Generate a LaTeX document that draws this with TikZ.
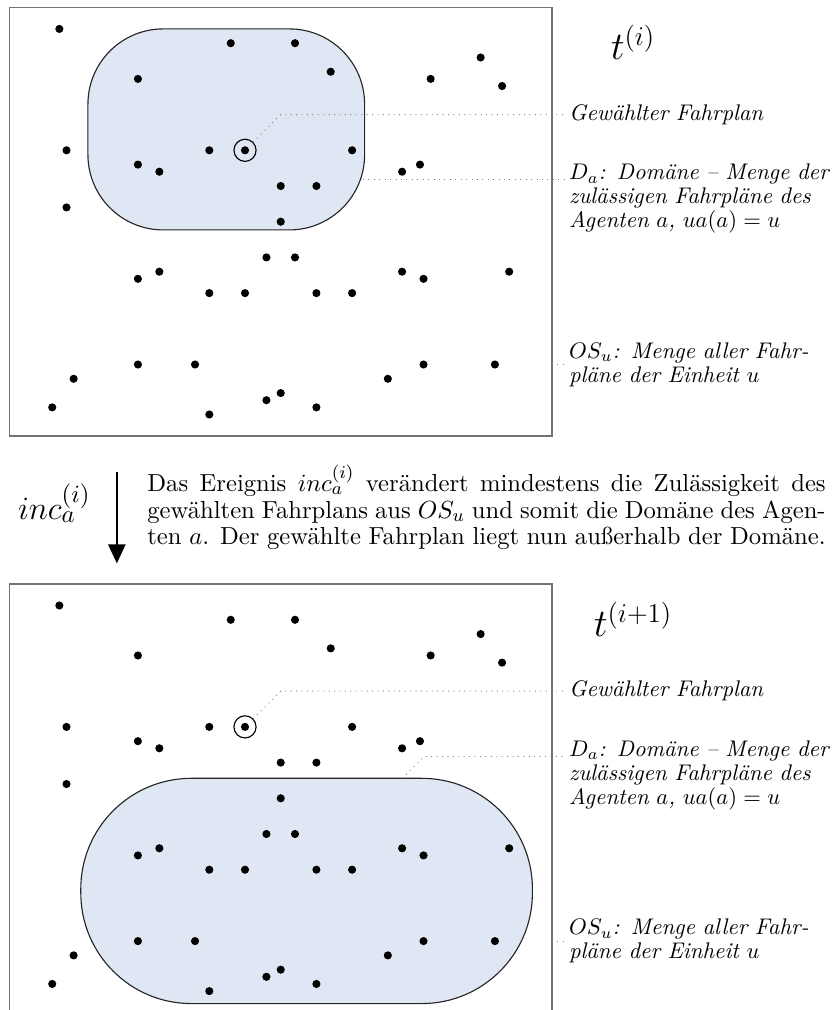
\documentclass[tikz,border=0pt]{standalone}
\usetikzlibrary{arrows.meta,positioning}
\definecolor{domfill}{RGB}{224,231,244}
\definecolor{boxgray}{gray}{0.45}

\begin{document}
\begin{tikzpicture}[x=0.555cm,y=0.555cm,>=Latex,
plan/.style={circle,fill,inner sep=0pt,minimum size=3.6pt},
chosen/.style={circle,draw,inner sep=0pt,minimum size=9.8pt,line width=0.5pt},
space/.style={draw=boxgray,line width=0.6pt},
dom/.style={draw=black!85,fill=domfill,line width=0.5pt},
lead/.style={draw=gray,dotted,line width=0.4pt},
lbl/.style={inner sep=1pt,text width=125pt,align=left,
font=\itshape\fontsize{10}{10.5}\selectfont},
when/.style={font=\LARGE,anchor=base}]
\useasboundingbox (-6.863,4.21) rectangle (16.499,-24.08);

% Zeitpunkt t^(i)
\draw[space] (-6.6,4) rectangle (8.6,-8);
\coordinate (ain) at (3,-0.83);
\node[lbl,anchor=base west] (lblDa) at (9,-0.83) {$D_a$: Domäne – Menge der\\
zulässigen Fahrpläne des\\ Agenten $a$, $ua(a)=u$};
\draw[lead] (ain) -- (lblDa.base west);
\draw[dom,rounded corners=1.17cm] (-4.4,3.4) rectangle (3.35,-2.23);
\foreach \x/\y [count=\i] in {-5.2/3.4,-0.4/3,1.4/3,6.6/2.6,-3/2,2.4/2.2,5.2/2,
7.2/1.8,-5/0,-1/0,3/0,-3/-0.4,-2.4/-0.6,4.4/-0.6,4.9/-0.4,1/-1,2/-1,-5/-1.6,
1/-2,0.6/-3,1.4/-3,-3/-3.6,-2.4/-3.4,4.4/-3.4,5/-3.6,7.4/-3.4,-1/-4,0/-4,2/-4,
3/-4,-3/-6,-1.4/-6,5/-6,7/-6,-4.8/-6.4,4/-6.4,-5.4/-7.2,-1/-7.4,0.6/-7,1/-6.8,2/-7.2}
  \node[plan] (a\i) at (\x,\y) {};
\node[plan] (asel) at (0,0) {};
\node[chosen] (aring) at (asel) {};
\node[when] (ta) at (10.87,2.53) {$t^{(i)}$};
\node[lbl,anchor=west] (lblGa) at (9,1) {Gewählter Fahrplan};
\node[lbl,anchor=west] (lblOa) at (9,-6) {$OS_u$: Menge aller Fahr-\\ pläne der Einheit $u$};
\coordinate (aedge) at (8.6,-6);
\draw[lead] (aring.45) -- (1,1) -- (lblGa.west);
\draw[lead] (aedge) -- (lblOa.west);

% Ereignis
\node[font=\fontsize{15.8}{18}\selectfont] (ev) at (-5.34,-9.88) {$inc_a^{(i)}$};
\coordinate (evtop) at (-3.59,-9);
\coordinate (evbot) at (-3.59,-11.57);
\draw[-{Triangle[width=7.6pt,length=8.4pt]},line width=0.9pt] (evtop) -- (evbot);
\node[anchor=west,text width=300pt,inner sep=1pt,align=justify,
font=\fontsize{10.9}{11.6}\selectfont] (txt) at (-2.81,-10)
{\parfillskip=0pt Das Ereignis $inc_a^{(i)}$ verändert mindestens die Zulässigkeit des\linebreak
gewählten Fahrplans aus $OS_u$ und somit die Domäne des Agen-\linebreak
ten $a$. Der gewählte Fahrplan liegt nun außerhalb der Domäne.};

% Zeitpunkt t^(i+1)
\begin{scope}[shift={(0,-16.15)}]
\draw[space] (-6.6,4) rectangle (8.6,-8.2);
\draw[dom,rounded corners=1.72cm] (-4.6,-1.44) rectangle (8.05,-7.75);
\foreach \x/\y [count=\i] in {-5.2/3.4,-0.4/3,1.4/3,6.6/2.6,-3/2,2.4/2.2,5.2/2,
7.2/1.8,-5/0,-1/0,3/0,-3/-0.4,-2.4/-0.6,4.4/-0.6,4.9/-0.4,1/-1,2/-1,-5/-1.6,
1/-2,0.6/-3,1.4/-3,-3/-3.6,-2.4/-3.4,4.4/-3.4,5/-3.6,7.4/-3.4,-1/-4,0/-4,2/-4,
3/-4,-3/-6,-1.4/-6,5/-6,7/-6,-4.8/-6.4,4/-6.4,-5.4/-7.2,-1/-7.4,0.6/-7,1/-6.8,2/-7.2}
  \node[plan] (b\i) at (\x,\y) {};
\node[plan] (bsel) at (0,0) {};
\node[chosen] (bring) at (bsel) {};
\node[when] (tb) at (10.87,2.53) {$t^{(i+1)}$};
\node[lbl,anchor=west] (lblGb) at (9,1) {Gewählter Fahrplan};
\node[lbl,anchor=base west] (lblDb) at (9,-0.83) {$D_a$: Domäne – Menge der\\
zulässigen Fahrpläne des\\ Agenten $a$, $ua(a)=u$};
\node[lbl,anchor=west] (lblOb) at (9,-6) {$OS_u$: Menge aller Fahr-\\ pläne der Einheit $u$};
\coordinate (bin) at (4.4,-1.44);
\coordinate (bedge) at (8.6,-6);
\draw[lead] (bring.45) -- (1,1) -- (lblGb.west);
\draw[lead] (bin) -- (5.02,-0.83) -- (lblDb.base west);
\draw[lead] (bedge) -- (lblOb.west);
\end{scope}
\end{tikzpicture}
\end{document}
